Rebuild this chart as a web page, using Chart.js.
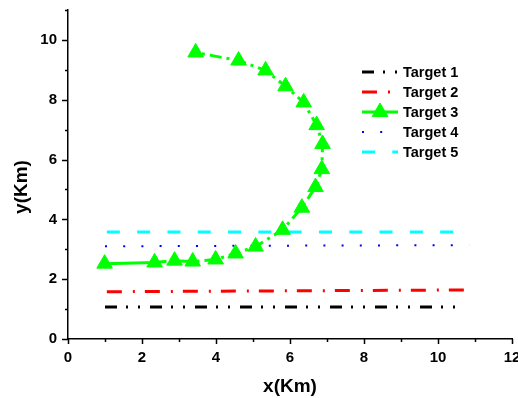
<!DOCTYPE html>
<html>
<head>
<meta charset="utf-8">
<title>Target tracks</title>
<script src="https://cdn.jsdelivr.net/npm/chart.js@4.4.1/dist/chart.umd.min.js"></script>
<style>
  html, body { margin: 0; padding: 0; background: #fff; overflow: hidden; }
  #wrap { width: 540px; height: 398px; }
</style>
</head>
<body>
<div id="wrap"><canvas id="trackChart" width="540" height="398"></canvas></div>
<script>
// axis ranges and labels
const xMax = 12;
const yMax = 11;
const xTitle = 'x(Km)';
const yTitle = 'y(Km)';

// track names
const names = ['Target 1', 'Target 2', 'Target 3', 'Target 4', 'Target 5'];

// track coordinates (Km)
const t1X = [1.0, 10.68];
const t1Y = [1.07, 1.07];

const t2X = [1.05, 10.78];
const t2Y = [1.58, 1.64];

const t3X = [0.99, 2.34, 2.88, 3.37, 3.99, 4.53, 5.07, 5.80, 6.32, 6.69, 6.86, 6.88, 6.72, 6.37, 5.88, 5.34, 4.61, 3.45];
const t3Y = [2.52, 2.56, 2.62, 2.59, 2.66, 2.86, 3.09, 3.65, 4.39, 5.08, 5.68, 6.52, 7.15, 7.91, 8.45, 8.98, 9.31, 9.58];

const t4X = [1.0, 10.84];
const t4Y = [3.10, 3.14];

const t5X = [1.05, 10.8];
const t5Y = [3.58, 3.58];

const FONT = '"Liberation Sans", Arial, sans-serif';

function pts(xs, ys) {
  return xs.map((v, i) => ({ x: v, y: ys[i] }));
}

const green3Dash = [12, 5, 3, 5];

const datasets = [
  { label: names[0], data: pts(t1X, t1Y), borderColor: '#000000', borderWidth: 3,
    borderDash: [12, 9, 2, 10, 2, 10], pointRadius: 0 },
  { label: names[1], data: pts(t2X, t2Y), borderColor: '#ff0000', borderWidth: 3,
    borderDash: [15, 11, 2, 10], pointRadius: 0 },
  { label: names[2], data: pts(t3X, t3Y), borderColor: '#00ff00', borderWidth: 3,
    pointStyle: 'triangle', pointRadius: 9, pointBackgroundColor: '#00ff00',
    pointBorderColor: '#00ff00', pointBorderWidth: 1,
    segment: { borderDash: ctx => ctx.p0DataIndex === 0 ? [] : green3Dash } },
  { label: names[3], data: pts(t4X, t4Y), borderColor: '#0000ff', borderWidth: 2,
    borderDash: [2, 16.2], pointRadius: 0 },
  { label: names[4], data: pts(t5X, t5Y), borderColor: '#00ffff', borderWidth: 3,
    borderDash: [13, 17.3], pointRadius: 0 }
];
datasets.forEach(d => { d.showLine = true; d.fill = false; d.tension = 0; });

// minor/major tick marks, axis titles and the legend box
const axisDecor = {
  id: 'axisDecor',
  afterDraw(chart) {
    const { ctx, chartArea, scales: { x, y } } = chart;
    ctx.save();
    ctx.strokeStyle = '#000';
    ctx.lineWidth = 1.5;
    ctx.setLineDash([]);
    ctx.beginPath();
    for (let v = 0; v <= xMax; v++) {
      const px = Math.round(x.getPixelForValue(v)) + 0.5;
      const len = v % 2 ? 3 : 5;
      ctx.moveTo(px, chartArea.bottom);
      ctx.lineTo(px, chartArea.bottom + len);
    }
    for (let v = 0; v <= yMax; v++) {
      const py = Math.round(y.getPixelForValue(v)) + 0.5;
      const len = v % 2 ? 3 : 6;
      ctx.moveTo(chartArea.left, py);
      ctx.lineTo(chartArea.left - len, py);
    }
    ctx.stroke();

    ctx.fillStyle = '#000';
    ctx.font = 'bold 19px ' + FONT;
    ctx.textAlign = 'center';
    ctx.textBaseline = 'middle';
    ctx.fillText(xTitle, (chartArea.left + chartArea.right) / 2, 387);
    ctx.save();
    ctx.translate(22, 187);
    ctx.rotate(-Math.PI / 2);
    ctx.fillText(yTitle, 0, 0);
    ctx.restore();

    // legend
    const lx0 = 362, lx1 = 398, tx = 403;
    ctx.font = 'bold 14.5px ' + FONT;
    ctx.textAlign = 'left';
    chart.data.datasets.forEach((ds, i) => {
      const ly = 72 + i * 20;
      ctx.strokeStyle = ds.borderColor;
      ctx.lineWidth = ds.borderWidth;
      ctx.setLineDash(ds.borderDash || []);
      ctx.beginPath();
      ctx.moveTo(lx0, ly);
      ctx.lineTo(lx1, ly);
      ctx.stroke();
      ctx.setLineDash([]);
      if (ds.pointRadius) {
        ctx.fillStyle = ds.pointBackgroundColor;
        ctx.strokeStyle = ds.pointBorderColor;
        ctx.lineWidth = ds.pointBorderWidth;
        Chart.helpers.drawPoint(ctx, { pointStyle: ds.pointStyle, radius: ds.pointRadius,
          rotation: 0, borderWidth: ds.pointBorderWidth }, (lx0 + lx1) / 2, ly);
      }
      ctx.fillStyle = '#000';
      ctx.fillText(ds.label, tx, ly + 1);
    });
    ctx.restore();
  }
};

const tickFont = { family: FONT, size: 15, weight: 'bold' };

new Chart(document.getElementById('trackChart'), {
  type: 'scatter',
  data: { datasets },
  options: {
    responsive: false,
    animation: false,
    devicePixelRatio: 1,
    layout: { padding: { top: 9, right: 28, left: 0, bottom: 0 } },
    plugins: { legend: { display: false }, tooltip: { enabled: false } },
    scales: {
      x: {
        type: 'linear', min: 0, max: xMax,
        afterFit(s) { s.height = 59; s.paddingLeft = 0; s.paddingRight = 0; },
        grid: { display: true, drawOnChartArea: false, drawTicks: false },
        border: { display: true, color: '#000', width: 1.5 },
        ticks: { stepSize: 1, autoSkip: false, maxRotation: 0, padding: 10, color: '#000',
          font: tickFont, callback: v => (v % 2 === 0 ? v : '') }
      },
      y: {
        type: 'linear', min: 0, max: yMax,
        afterFit(s) { s.width = 68; s.paddingTop = 0; s.paddingBottom = 0; },
        grid: { display: true, drawOnChartArea: false, drawTicks: false },
        border: { display: true, color: '#000', width: 1.5 },
        ticks: { stepSize: 1, autoSkip: false, padding: 11, color: '#000',
          font: tickFont, callback: v => (v % 2 === 0 ? v : '') }
      }
    }
  },
  plugins: [axisDecor]
});
</script>
</body>
</html>
